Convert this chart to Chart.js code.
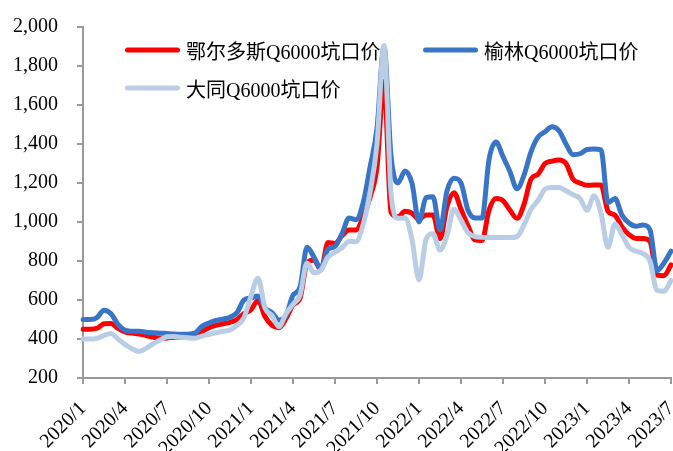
<!DOCTYPE html>
<html>
<head>
<meta charset="utf-8">
<script src="https://cdn.jsdelivr.net/npm/chart.js@4/dist/chart.umd.min.js"></script>
<style>
  html, body { margin: 0; padding: 0; background: #fff; }
  #wrap { position: relative; width: 673px; height: 451px; }
  #c { display: block; }
  #legend { position: absolute; left: 0; top: 0; width: 673px; height: 451px; pointer-events: none;
            font: 20px "Liberation Serif", "Times New Roman", "Noto Sans CJK SC", serif; color: #000; }
  .item { position: absolute; display: flex; align-items: center; white-space: nowrap; transform: translateY(-50%); }
  .swatch { width: 55px; height: 5px; border-radius: 3px; margin-right: 6px; }
</style>
</head>
<body>
<div id="wrap">
  <canvas id="c" width="673" height="451"></canvas>
  <div id="legend"></div>
</div>
<script>
// Semi-monthly observation periods, 2020/1 (first half) through 2023/7 (first half)
const periods = [];
for (let y = 2020; y <= 2023; y++) {
  for (let m = 1; m <= 12; m++) {
    periods.push(y + '/' + m + '上');
    if (y === 2023 && m === 7) break;
    periods.push(y + '/' + m + '下');
  }
}

// Quarter-start axis labels (every 6th period)
const tickLabels = ['2020/1', '2020/4', '2020/7', '2020/10', '2021/1', '2021/4', '2021/7',
                    '2021/10', '2022/1', '2022/4', '2022/7', '2022/10', '2023/1', '2023/4', '2023/7'];

// Pit-mouth prices, Q6000 (yuan/ton)
const ordos = [
  450, 450, 455, 478, 480, 455, 437, 430, 426, 418,
  410, 404, 405, 409, 410, 410, 418, 440, 458, 470,
  478, 485, 500, 530, 550, 598, 515, 470, 458, 505,
  575, 608, 790, 805, 755, 895, 890, 930, 959, 959,
  1025, 1125, 1284, 1720, 1050, 1027, 1055, 1045, 1015, 1036,
  1036, 915, 1080, 1150, 1065, 980, 908, 905, 1060, 1120,
  1110, 1060, 1019, 1090, 1220, 1245, 1300, 1312, 1318, 1300,
  1220, 1200, 1188, 1190, 1190, 1055, 1035, 975, 935, 916,
  916, 900, 728, 725, 780
];
const yulin = [
  500, 500, 510, 548, 530, 475, 445, 440, 440, 435,
  432, 430, 428, 426, 425, 425, 430, 465, 482, 495,
  502, 512, 535, 600, 610, 620, 560, 535, 497, 520,
  624, 665, 870, 820, 760, 860, 875, 940, 1020, 1012,
  1095, 1280, 1480, 1900, 1340, 1200, 1262, 1198, 1000, 1125,
  1130, 959, 1160, 1225, 1200, 1060, 1020, 1020, 1320, 1410,
  1335, 1258, 1170, 1240, 1360, 1435, 1463, 1488, 1468, 1400,
  1345, 1350, 1372, 1375, 1370, 1100, 1120, 1035, 995, 978,
  985, 960, 750, 790, 850
];
const datong = [
  400, 400, 403, 418, 428, 400, 372, 350, 336, 352,
  375, 395, 412, 413, 409, 406, 404, 415, 423, 432,
  440, 446, 470, 510, 620, 712, 560, 520, 463, 530,
  578, 625, 790, 740, 754, 820, 845, 868, 900, 899,
  985, 1150, 1400, 1905, 1150, 1019, 1020, 910, 703, 910,
  940, 856, 930, 1065, 1010, 945, 925, 922, 920, 920,
  920, 920, 925, 985, 1065, 1110, 1168, 1177, 1177, 1160,
  1140, 1120, 1060, 1135, 1045, 870, 990, 935, 870, 850,
  838, 800, 650, 645, 700
];

const seriesNames = ['鄂尔多斯Q6000坑口价', '榆林Q6000坑口价', '大同Q6000坑口价'];
const seriesColors = ['#FF0000', '#3875C6', '#B9CDE5'];

const serif = '"Liberation Serif", "Times New Roman", serif';
const axisGrey = '#9A9A9A';

const chart = new Chart(document.getElementById('c'), {
  type: 'line',
  data: {
    labels: periods,
    datasets: [
      { label: seriesNames[0], data: ordos,  borderColor: seriesColors[0], backgroundColor: seriesColors[0], order: 3 },
      { label: seriesNames[1], data: yulin,  borderColor: seriesColors[1], backgroundColor: seriesColors[1], order: 2 },
      { label: seriesNames[2], data: datong, borderColor: seriesColors[2], backgroundColor: seriesColors[2], order: 1 }
    ]
  },
  options: {
    responsive: false,
    animation: false,
    layout: { padding: { top: 27, right: 2, left: 0, bottom: 0 } },
    plugins: { legend: { display: false }, tooltip: { enabled: false } },
    elements: {
      point: { radius: 0, hoverRadius: 0 },
      line: { borderWidth: 5, borderJoinStyle: 'round', borderCapStyle: 'round', cubicInterpolationMode: 'monotone', fill: false }
    },
    scales: {
      x: {
        type: 'category',
        offset: false,
        grid: { display: true, drawOnChartArea: false, drawTicks: true, tickLength: 6, color: axisGrey, lineWidth: 2 },
        border: { display: true, color: axisGrey, width: 2 },
        ticks: {
          autoSkip: false, minRotation: 45, maxRotation: 45, padding: 13, color: '#000',
          font: { family: serif, size: 20 },
          callback: (v, i) => (i % 6 === 0 ? tickLabels[i / 6] : null)
        },
        afterFit: (s) => { s.height = 73; s.paddingLeft = 0; s.paddingRight = 0; }
      },
      y: {
        min: 200, max: 2000,
        grid: { display: true, drawOnChartArea: false, drawTicks: true, tickLength: 6, color: axisGrey, lineWidth: 2 },
        border: { display: true, color: axisGrey, width: 2 },
        ticks: {
          stepSize: 200, padding: 19, color: '#000',
          font: { family: serif, size: 20 },
          callback: (v) => v.toLocaleString('en-US')
        },
        afterFit: (s) => { s.width = 83; s.paddingTop = 0; s.paddingBottom = 0; }
      }
    }
  }
});

// Legend: two columns, built from the chart's datasets
const legendSlots = [{ left: 125, top: 50 }, { left: 423, top: 50 }, { left: 125, top: 88 }];
const legendEl = document.getElementById('legend');
chart.data.datasets.forEach((ds, k) => {
  const item = document.createElement('div');
  item.className = 'item';
  item.style.left = legendSlots[k].left + 'px';
  item.style.top = legendSlots[k].top + 'px';
  const sw = document.createElement('span');
  sw.className = 'swatch';
  sw.style.background = ds.borderColor;
  const tx = document.createElement('span');
  tx.textContent = ds.label;
  item.appendChild(sw);
  item.appendChild(tx);
  legendEl.appendChild(item);
});
</script>
</body>
</html>
